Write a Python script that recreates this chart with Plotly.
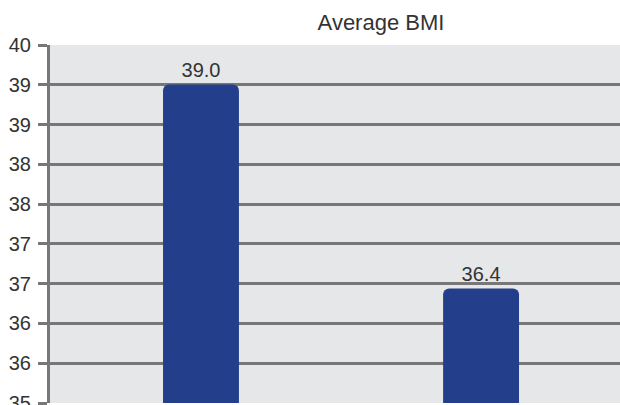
import plotly.graph_objects as go

# Data
categories = [0, 1]
bar_values = [39.45, 36.6]          # bar heights as drawn against the axis
bar_labels = ["39.0", "36.4"]       # data labels printed above the bars
title_text = "Average BMI"
y_min, y_max = 35, 40
n_steps = 9
tick_vals = [y_min + k * (y_max - y_min) / n_steps for k in range(n_steps + 1)]
tick_text = [f"{v:.0f}" for v in tick_vals]

BAR = "#233f8c"
GRID = "#777777"
TXT = "#333333"

fig = go.Figure()
fig.add_trace(go.Bar(
    x=categories, y=bar_values, width=0.271,
    marker=dict(color=BAR, line=dict(width=0)),
    text=bar_labels, textposition="outside", cliponaxis=False,
    textfont=dict(family="Liberation Sans", size=20, color=TXT),
    hoverinfo="skip",
))

fig.update_layout(
    width=620, height=405,
    margin=dict(l=50, r=0, t=45, b=2, autoexpand=False),
    paper_bgcolor="white", plot_bgcolor="#e6e7e9",
    barcornerradius=6,
    showlegend=False,
    title=dict(text=title_text, x=381 / 620, xanchor="center", y=1 - 22 / 405, yanchor="middle",
               font=dict(family="Liberation Sans", size=22, color=TXT)),
)
fig.update_xaxes(range=[-0.539, 1.496], showticklabels=False, showgrid=False, zeroline=False,
                 showline=False, ticks="", automargin=False)
fig.update_yaxes(range=[y_min, y_max], tickvals=tick_vals, ticktext=tick_text,
                 showgrid=True, gridcolor=GRID, gridwidth=2.5, zeroline=False,
                 showline=True, linecolor=GRID, linewidth=3,
                 ticks="outside", ticklen=9, tickwidth=3, tickcolor=GRID,
                 ticklabelstandoff=3, ticklabeloverflow="allow", automargin=False,
                 tickfont=dict(family="Liberation Sans", size=20, color=TXT))

fig.write_html("out.html")
